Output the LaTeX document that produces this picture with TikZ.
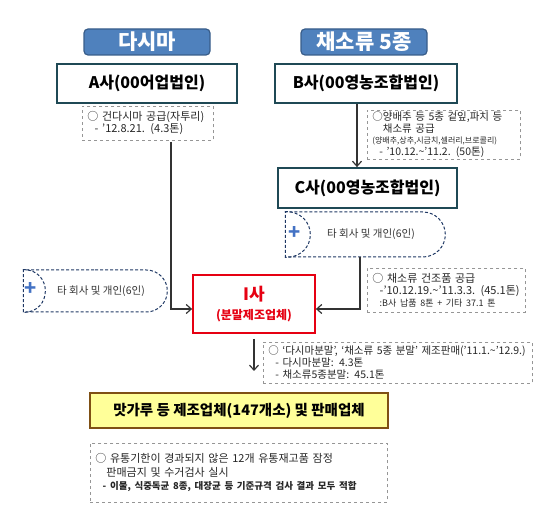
\documentclass[tikz,border=0pt]{standalone}
\usepackage{fontspec}
\setmainfont{Noto Sans CJK KR}
\usetikzlibrary{positioning,shapes.misc,arrows.meta}
\newcommand{\wave}{\textasciitilde}
\definecolor{titleblue}{RGB}{79,129,189}
\definecolor{titleedge}{RGB}{56,93,138}
\definecolor{firmedge}{RGB}{31,73,85}
\definecolor{dashblue}{RGB}{31,56,100}
\definecolor{plusblue}{RGB}{68,114,196}
\definecolor{redline}{RGB}{230,0,18}
\definecolor{prodfill}{RGB}{255,255,153}
\definecolor{prodedge}{RGB}{127,80,20}
\definecolor{notegray}{RGB}{150,150,150}
\tikzset{
  titlebox/.style={draw=titleedge, line width=1.2pt, fill=titleblue, rounded corners=4pt,
    text=white, font=\bfseries\fontsize{21}{22}\selectfont, minimum width=126pt,
    minimum height=26pt, inner sep=0pt},
  firmbox/.style={draw=firmedge, line width=1.8pt, fill=white,
    font=\bfseries\fontsize{16}{18}\selectfont, minimum height=39pt, inner sep=0pt},
  notebox/.style={draw=notegray, dashed, line width=0.8pt, align=left, anchor=north west,
    font=\fontsize{11}{12}\selectfont, text=black!85, inner xsep=5pt, inner ysep=1pt},
  sidebox/.style={rounded rectangle, rounded rectangle left arc=none, draw=dashblue,
    dash pattern=on 3pt off 2pt, line width=1pt, inner sep=0pt,
    font=\fontsize{10.5}{12}\selectfont, text=black!80},
  plus/.style={text=plusblue, font=\bfseries\fontsize{20}{20}\selectfont, inner sep=0pt},
  flow/.style={draw=black!80, line width=1.2pt, -{Straight Barb[length=5pt,width=9pt]}}
}
\begin{document}
\begin{tikzpicture}[x=1pt,y=-1pt]
  \useasboundingbox (0,0) rectangle (550,516);
  \node[titlebox] (dasima) at (147,42) {다시마};
  \node[titlebox] (veg) at (364,42) {채소류 5종};
  \node[firmbox, minimum width=180pt] (afirm) at (147,83.5) {A사(00어업법인)};
  \node[firmbox, minimum width=182pt] (bfirm) at (366,83.5) {B사(00영농조합법인)};
  \node[firmbox, minimum width=179pt, minimum height=40pt] (cfirm) at (367.5,188) {C사(00영농조합법인)};
  \node[notebox, text width=121pt, minimum height=34pt] (anote) at (82,106)
    {○ 건다시마 공급(자투리)\\\ \ - ’12.8.21. (4.3톤)};
  \node[notebox, text width=143pt, minimum height=49pt, font=\fontsize{10.5}{11.5}\selectfont] (bnote) at (367,110)
    {○양배추 등 5종 겉잎,파치 등\\\quad 채소류 공급\\{\fontsize{8}{11.5}\selectfont(양배추,상추,시금치,셀러리,브로콜리)}\\\ \ - ’10.12.\wave’11.2. (50톤)};
  \node[sidebox, minimum width=160pt, minimum height=45pt] (cside) at (365,234.5) {\hspace*{12pt}타 회사 및 개인(6인)};
  \node[plus] (cplus) at (295,233) {+};
  \draw[draw=dashblue, dash pattern=on 3pt off 2pt, line width=1pt]
    (cside.north west) .. controls +(34,0) and +(34,0) .. (cside.south west);
  \node[sidebox, minimum width=144pt, minimum height=42pt] (lside) at (95,291) {\hspace*{12pt}타 회사 및 개인(6인)};
  \node[plus] (lplus) at (31,289) {+};
  \draw[draw=dashblue, dash pattern=on 3pt off 2pt, line width=1pt]
    (lside.north west) .. controls +(30,0) and +(30,0) .. (lside.south west);
  \node[notebox, text width=148pt, minimum height=44pt] (cnote) at (367,268)
    {○ 채소류 건조품 공급\\\ \ -’10.12.19.\wave’11.3.3. (45.1톤)\\\ \ {\fontsize{9}{10}\selectfont :B사 납품 8톤 + 기타 37.1 톤}};
  \node[draw=redline, line width=1.8pt, fill=white, minimum width=122pt, minimum height=58pt,
    align=center, text=redline, inner sep=0pt, font=\bfseries\fontsize{12}{19}\selectfont] (imaker) at (254,304)
    {{\fontsize{17}{17}\selectfont I사}\\(분말제조업체)};
  \node[notebox, text width=259pt, minimum height=41pt, font=\fontsize{10.5}{12}\selectfont] (inote) at (263,342)
    {○ ‘다시마분말’, ‘채소류 5종 분말’ 제조판매(’11.1.\wave’12.9.)\\\ \ - 다시마분말: 4.3톤\\\ \ - 채소류5종분말: 45.1톤};
  \node[draw=prodedge, line width=1.8pt, fill=prodfill, minimum width=298pt, minimum height=35pt,
    font=\bfseries\fontsize{14.5}{17}\selectfont, inner sep=0pt] (prod) at (239,410.5)
    {맛가루 등 제조업체(147개소) 및 판매업체};
  \node[notebox, text width=287pt, minimum height=59pt, font=\fontsize{11}{13.5}\selectfont] (pnote) at (90,443)
    {○ 유통기한이 경과되지 않은 12개 유통재고품 잠정\\\quad 판매금지 및 수거검사 실시\\\ \ {\bfseries\fontsize{9.5}{13.5}\selectfont - 이물, 식중독균 8종, 대장균 등 기준규격 검사 결과 모두 적합}};
  \coordinate (adrop) at (171,142);
  \coordinate (itip) at (254,371);
  \draw[flow] (adrop) |- ([yshift=-5pt]imaker.west);
  \draw[flow] ([xshift=-9pt]bfirm.south) -- ([xshift=-9pt]bfirm.south |- cfirm.north);
  \draw[flow] ([xshift=-5pt]cside.south) |- ([yshift=-5pt]imaker.east);
  \draw[flow] ([yshift=-5pt]imaker.south) -- (itip);
\end{tikzpicture}
\end{document}
